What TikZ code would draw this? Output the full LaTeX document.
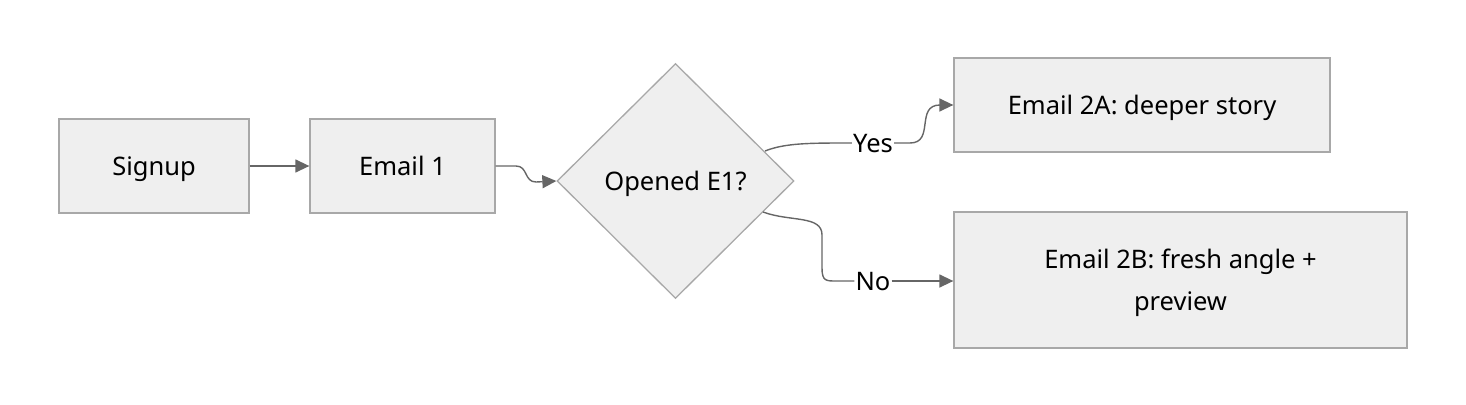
\documentclass[tikz,border=0pt]{standalone}
\usepackage{fontspec}
\setmainfont{Noto Sans}
\usetikzlibrary{shapes.geometric,arrows.meta}
\definecolor{boxfill}{HTML}{EFEFEF}
\definecolor{boxline}{HTML}{A8A8A8}
\definecolor{edgecol}{HTML}{666666}
\tikzset{
  txt/.style={font=\fontsize{25.5}{42}\selectfont},
  stepbox/.style={txt, draw=boxline, fill=boxfill, line width=1.3pt, inner sep=0pt, align=center},
  onerow/.style={text height=18.5pt, text depth=0pt},
  decide/.style={txt, onerow, diamond, draw=boxline, fill=boxfill, line width=1.3pt, inner sep=0pt},
  edge/.style={draw=edgecol, line width=1.4pt, -{Triangle[length=14pt,width=13pt]}},
  plain/.style={draw=edgecol, line width=1.4pt},
  lbl/.style={txt, onerow, inner sep=1pt}
}
\begin{document}
\begin{tikzpicture}[x=1pt,y=-1pt]
\useasboundingbox (0,0) rectangle (1466,404);
\node[stepbox, onerow, minimum width=190pt, minimum height=94pt] (signup) at (154,166) {Signup};
\node[stepbox, onerow, minimum width=185pt, minimum height=94pt] (e1) at (402.5,166) {Email 1};
\node[decide, minimum width=237pt, minimum height=235pt] (d) at (675.5,181) {Opened E1?};
\node[stepbox, onerow, minimum width=376pt, minimum height=94pt] (e2a) at (1142,105) {Email 2A: deeper story};
\node[stepbox, minimum width=453pt, minimum height=136pt] (e2b) at (1180.5,280) {\rule{0pt}{26pt}Email 2B: fresh angle +\\preview};
\node[lbl] (yes) at (873,143) {Yes};
\node[lbl] (no) at (873,281) {No};
\coordinate (ys) at (765,151);
\coordinate (ns) at (763,212);
\draw[edge] (signup.east) -- (e1.west);
\draw[edge] (e1.east) -- (516,166) .. controls (528,166) and (524,182) .. (536,182) -- (d.west);
\draw[plain] (ys) .. controls (785,143) and (810,143) .. (850,143) -- (yes.west);
\draw[edge] (yes.east) -- (910,143) .. controls (935,143) and (915,105) .. (940,105) -- (e2a.west);
\draw[plain] (ns) .. controls (790,222) and (822,215) .. (822,235) -- (822,268) .. controls (822,281) and (826,281) .. (836,281) -- (no.west);
\draw[edge] (no.east) -- (e2b.west |- no.east);
\end{tikzpicture}
\end{document}
